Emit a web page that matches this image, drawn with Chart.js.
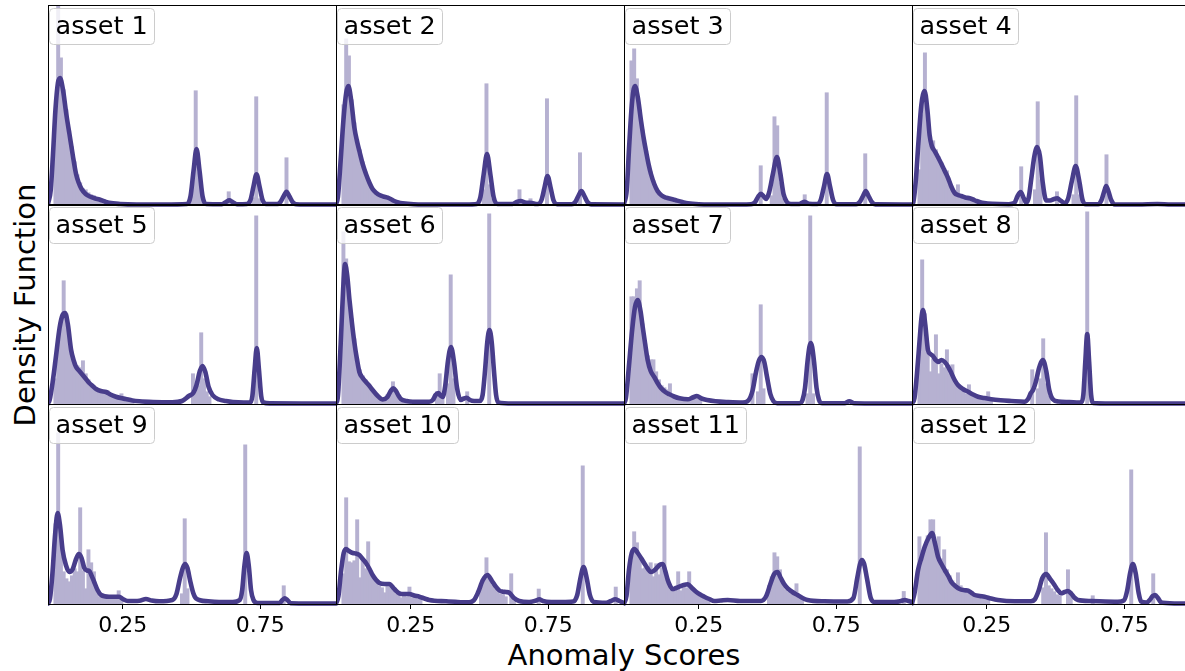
<!DOCTYPE html>
<html>
<head>
<meta charset="utf-8">
<script src="https://cdn.jsdelivr.net/npm/chart.js@4.4.0/dist/chart.umd.min.js"></script>
<style>
html,body{margin:0;padding:0;background:#fff;overflow:hidden;width:1185px;height:671px;}
body{position:relative;font-family:"DejaVu Sans",sans-serif;}
canvas{position:absolute;}
#xlabel{position:absolute;left:424px;width:400px;top:638px;text-align:center;font-size:29px;line-height:34px;color:#000;white-space:nowrap;}
#ylabel{position:absolute;left:-175px;width:400px;top:288px;text-align:center;font-size:29px;line-height:34px;color:#000;white-space:nowrap;transform:rotate(-90deg);transform-origin:50% 50%;}
</style>
</head>
<body>
<div id="xlabel">Anomaly Scores</div>
<div id="ylabel">Density Function</div>
<script>
// ---------------- data ----------------
const assetNames = ['asset 1','asset 2','asset 3','asset 4','asset 5','asset 6','asset 7','asset 8','asset 9','asset 10','asset 11','asset 12'];
const xTickValues = [0.25, 0.75];
const xTickLabels = ['0.25', '0.75'];

// kernel density curves: [score, density]
const kde1 = [[-0.022,0.1],[-0.012,1.5],[-0.004,5],[0.005,9.5],[0.014,12.2],[0.022,12.7],[0.032,11.6],[0.045,9],[0.056,7.1],[0.068,5],[0.08,3.1],[0.09,2.2],[0.1,1.6],[0.115,1.1],[0.13,0.85],[0.15,0.65],[0.165,0.55],[0.185,0.35],[0.2,0.22],[0.24,0.1],[0.3,0.05],[0.4,0.05],[0.483,0.1],[0.496,0.85],[0.507,3.4],[0.518,5.6],[0.529,3.4],[0.54,0.85],[0.553,0.1],[0.61,0.08],[0.625,0.3],[0.637,0.47],[0.649,0.3],[0.665,0.08],[0.701,0.1],[0.714,0.5],[0.725,1.85],[0.736,3.07],[0.747,1.85],[0.758,0.5],[0.771,0.1],[0.812,0.1],[0.823,0.3],[0.834,0.85],[0.845,1.33],[0.856,0.85],[0.867,0.3],[0.88,0.08],[0.95,0.05],[1.025,0.05]];
const kde2 = [[-0.022,0.1],[-0.015,0.8],[-0.005,4.5],[0.005,8.5],[0.015,11.2],[0.023,11.9],[0.033,10.5],[0.045,7.7],[0.055,6.3],[0.063,5.4],[0.075,4.1],[0.087,3.1],[0.1,2.2],[0.111,1.6],[0.125,1.2],[0.136,1.0],[0.15,0.85],[0.166,0.73],[0.18,0.55],[0.19,0.4],[0.205,0.25],[0.22,0.17],[0.26,0.08],[0.35,0.05],[0.45,0.05],[0.49,0.1],[0.503,0.8],[0.515,3.1],[0.527,5.1],[0.539,3.1],[0.551,0.8],[0.565,0.1],[0.62,0.1],[0.635,0.3],[0.65,0.4],[0.665,0.25],[0.69,0.2],[0.705,0.1],[0.712,0.1],[0.725,0.5],[0.736,1.75],[0.747,2.9],[0.758,1.75],[0.769,0.45],[0.782,0.08],[0.835,0.08],[0.848,0.3],[0.859,0.9],[0.87,1.4],[0.881,0.9],[0.892,0.3],[0.905,0.06],[1.025,0.05]];
const kde3 = [[-0.022,0.1],[-0.012,1.5],[-0.004,5.5],[0.005,9.5],[0.012,11.4],[0.018,11.9],[0.028,10.8],[0.04,8.4],[0.05,6.6],[0.058,5.4],[0.068,4],[0.076,3.1],[0.088,2.1],[0.1,1.4],[0.115,0.95],[0.131,0.73],[0.15,0.6],[0.167,0.47],[0.19,0.3],[0.21,0.17],[0.25,0.08],[0.35,0.05],[0.44,0.08],[0.455,0.3],[0.466,0.85],[0.476,1.13],[0.486,0.85],[0.494,0.6],[0.505,1.2],[0.52,3.2],[0.534,4.8],[0.546,3.2],[0.558,1.1],[0.57,0.3],[0.585,0.1],[0.615,0.1],[0.633,0.33],[0.65,0.12],[0.68,0.1],[0.693,0.5],[0.705,1.85],[0.716,3.1],[0.727,1.85],[0.738,0.5],[0.751,0.08],[0.822,0.08],[0.835,0.3],[0.846,0.85],[0.857,1.4],[0.868,0.85],[0.879,0.3],[0.892,0.06],[1.025,0.05]];
const kde4 = [[-0.022,0.05],[-0.017,0.3],[-0.008,2.5],[0.002,6.5],[0.012,10],[0.024,11.4],[0.034,9.5],[0.042,7],[0.05,5.9],[0.06,5.4],[0.072,4.8],[0.085,4.1],[0.097,3.4],[0.109,2.7],[0.12,1.9],[0.133,1.2],[0.145,1.0],[0.157,0.9],[0.172,0.75],[0.188,0.67],[0.2,0.55],[0.212,0.4],[0.226,0.28],[0.24,0.2],[0.27,0.12],[0.33,0.08],[0.35,0.2],[0.362,0.9],[0.373,1.3],[0.384,0.7],[0.393,0.25],[0.402,0.7],[0.412,2.7],[0.423,4.9],[0.433,5.8],[0.443,4.9],[0.453,2.3],[0.466,0.45],[0.48,0.45],[0.495,0.6],[0.506,0.67],[0.52,0.4],[0.533,0.2],[0.545,0.6],[0.56,2.5],[0.573,3.9],[0.586,2.4],[0.598,0.5],[0.61,0.08],[0.655,0.08],[0.667,0.5],[0.676,1.3],[0.684,1.9],[0.693,1.3],[0.702,0.5],[0.715,0.06],[0.8,0.05],[0.87,0.1],[0.92,0.05],[1.025,0.05]];
const kde5 = [[-0.022,0.05],[-0.016,0.4],[-0.005,2.2],[0.008,5],[0.02,7.6],[0.031,8.9],[0.04,9.1],[0.05,8],[0.062,5.4],[0.072,4.3],[0.08,3.7],[0.092,3.3],[0.104,2.9],[0.116,2.5],[0.128,2.1],[0.14,1.8],[0.153,1.5],[0.17,1.3],[0.189,1.2],[0.205,0.95],[0.225,0.73],[0.242,0.6],[0.26,0.5],[0.285,0.35],[0.31,0.27],[0.36,0.2],[0.43,0.17],[0.465,0.3],[0.49,0.8],[0.506,1.1],[0.518,1.9],[0.53,3.3],[0.54,3.8],[0.55,3.2],[0.562,1.7],[0.576,0.9],[0.6,0.45],[0.625,0.3],[0.65,0.2],[0.69,0.15],[0.713,0.15],[0.721,0.8],[0.729,3.4],[0.737,5.6],[0.745,3.4],[0.753,0.8],[0.761,0.15],[0.785,0.06],[0.9,0.05],[1.025,0.05]];
const kde6 = [[-0.022,0.05],[-0.015,0.8],[-0.005,6],[0.004,11.5],[0.011,14],[0.019,12.8],[0.027,10.4],[0.036,8.1],[0.045,6.1],[0.054,4.5],[0.063,3.2],[0.075,2.6],[0.087,2.2],[0.1,1.8],[0.111,1.4],[0.13,0.8],[0.148,0.45],[0.165,0.7],[0.177,1.3],[0.186,1.57],[0.196,1.3],[0.205,0.85],[0.214,0.5],[0.235,0.3],[0.257,0.23],[0.317,0.23],[0.33,0.4],[0.34,0.9],[0.35,1.1],[0.358,0.85],[0.366,0.7],[0.375,1.8],[0.385,4.3],[0.396,5.7],[0.407,4.2],[0.418,1.6],[0.432,0.4],[0.443,0.55],[0.453,0.63],[0.465,0.4],[0.48,0.3],[0.5,0.3],[0.511,0.9],[0.52,3.4],[0.528,6.2],[0.536,7.4],[0.544,6.2],[0.552,3.4],[0.56,0.9],[0.568,0.15],[0.62,0.05],[1.025,0.05]];
const kde7 = [[-0.022,0.05],[-0.015,0.6],[-0.005,3.5],[0.008,7.5],[0.018,9.7],[0.028,10.4],[0.038,9.3],[0.046,7.7],[0.055,6],[0.064,4.4],[0.075,3.3],[0.088,2.7],[0.1,2.1],[0.113,1.57],[0.128,1.2],[0.143,0.97],[0.16,0.75],[0.18,0.57],[0.21,0.47],[0.228,0.65],[0.243,0.8],[0.26,0.55],[0.28,0.4],[0.31,0.28],[0.355,0.2],[0.41,0.15],[0.43,0.35],[0.445,1.3],[0.458,3.2],[0.468,4.3],[0.478,4.7],[0.488,4.2],[0.498,2.7],[0.51,1.0],[0.522,0.25],[0.535,0.08],[0.615,0.08],[0.627,0.4],[0.636,1.6],[0.645,4.2],[0.652,5.7],[0.657,6.1],[0.662,5.7],[0.669,4.2],[0.678,1.6],[0.687,0.4],[0.699,0.08],[0.78,0.08],[0.797,0.27],[0.815,0.08],[1.025,0.05]];
const kde8 = [[-0.022,0.05],[-0.013,0.6],[-0.004,3],[0.006,6.5],[0.012,8.5],[0.018,9.4],[0.026,8],[0.036,5.4],[0.045,5.0],[0.054,4.8],[0.064,4.4],[0.073,4.2],[0.085,4.4],[0.097,4.2],[0.11,3.7],[0.121,3.1],[0.133,2.4],[0.145,1.9],[0.163,1.5],[0.182,1.23],[0.2,0.95],[0.218,0.73],[0.24,0.6],[0.266,0.47],[0.3,0.37],[0.339,0.3],[0.387,0.23],[0.4,0.5],[0.41,1.1],[0.418,1.4],[0.428,2.2],[0.44,3.6],[0.454,4.4],[0.466,3.3],[0.477,1.4],[0.49,0.47],[0.51,0.25],[0.55,0.2],[0.585,0.15],[0.594,0.2],[0.601,0.95],[0.608,4.2],[0.615,7.0],[0.622,4.2],[0.629,0.95],[0.636,0.1],[0.7,0.05],[1.025,0.05]];
const kde9 = [[-0.022,0.05],[-0.015,0.5],[-0.006,3],[0.004,7],[0.013,9.1],[0.022,7.8],[0.031,5.4],[0.043,3.9],[0.056,3.2],[0.068,3.5],[0.08,4.5],[0.09,5.0],[0.1,4.6],[0.11,3.6],[0.12,3.35],[0.128,3.3],[0.137,2.8],[0.146,2.2],[0.158,1.4],[0.171,0.9],[0.2,0.73],[0.237,0.73],[0.25,0.5],[0.268,0.3],[0.31,0.33],[0.334,0.5],[0.355,0.35],[0.383,0.27],[0.43,0.4],[0.445,1.0],[0.458,2.6],[0.468,3.6],[0.476,4.0],[0.485,3.6],[0.495,2.3],[0.506,1.1],[0.516,0.57],[0.56,0.27],[0.6,0.2],[0.65,0.2],[0.675,0.4],[0.684,1.4],[0.692,3.8],[0.7,5.1],[0.708,3.8],[0.716,1.4],[0.725,0.4],[0.74,0.1],[0.82,0.1],[0.83,0.4],[0.839,0.57],[0.848,0.4],[0.86,0.08],[1.025,0.05]];
const kde10 = [[-0.022,0.05],[-0.013,0.8],[-0.004,3.2],[0.006,5.1],[0.015,5.5],[0.025,5.3],[0.039,5.1],[0.05,5.05],[0.063,4.9],[0.075,4.5],[0.087,4.1],[0.1,3.5],[0.111,2.9],[0.124,2.4],[0.136,2.1],[0.155,2.0],[0.172,2.0],[0.19,1.5],[0.208,1.07],[0.225,1.0],[0.245,1.0],[0.262,0.85],[0.281,0.73],[0.3,0.55],[0.317,0.4],[0.378,0.27],[0.462,0.17],[0.48,0.4],[0.495,1.2],[0.512,2.4],[0.529,2.9],[0.545,2.3],[0.559,1.73],[0.572,1.35],[0.584,1.23],[0.596,1.2],[0.608,1.13],[0.625,0.6],[0.644,0.3],[0.68,0.2],[0.705,0.35],[0.717,0.47],[0.73,0.3],[0.76,0.2],[0.8,0.2],[0.84,0.25],[0.855,0.9],[0.866,2.5],[0.878,3.7],[0.89,2.5],[0.901,0.9],[0.915,0.2],[0.96,0.12],[0.978,0.3],[0.993,0.47],[1.008,0.3],[1.025,0.1]];
const kde11 = [[-0.022,0.05],[-0.013,0.8],[-0.004,3.4],[0.006,5.1],[0.016,5.5],[0.028,5.1],[0.04,4.6],[0.058,3.8],[0.076,3.2],[0.088,3.35],[0.1,3.7],[0.11,3.95],[0.119,4.0],[0.128,3.3],[0.137,2.4],[0.146,1.8],[0.155,1.47],[0.167,1.6],[0.179,1.73],[0.195,1.9],[0.21,1.97],[0.225,1.6],[0.24,1.23],[0.255,0.95],[0.27,0.73],[0.288,0.5],[0.306,0.3],[0.33,0.35],[0.355,0.4],[0.4,0.3],[0.476,0.3],[0.495,0.8],[0.51,2.0],[0.524,3.0],[0.536,3.2],[0.548,2.6],[0.56,2.0],[0.573,1.57],[0.59,1.2],[0.609,0.9],[0.627,0.6],[0.645,0.4],[0.706,0.27],[0.79,0.25],[0.812,0.6],[0.826,2.6],[0.836,4.0],[0.843,4.4],[0.851,4.0],[0.861,2.6],[0.875,0.6],[0.89,0.2],[0.96,0.2],[0.985,0.3],[0.999,0.4],[1.012,0.3],[1.025,0.2]];
const kde12 = [[-0.022,0.05],[-0.012,1.2],[0.0,3.4],[0.012,4.6],[0.024,5.7],[0.038,6.6],[0.051,7.1],[0.062,6.0],[0.073,4.7],[0.085,4.0],[0.097,3.4],[0.11,2.8],[0.121,2.2],[0.135,1.8],[0.151,1.5],[0.17,1.38],[0.182,1.33],[0.195,1.1],[0.206,0.9],[0.224,0.8],[0.242,0.73],[0.265,0.55],[0.29,0.4],[0.351,0.27],[0.41,0.28],[0.424,0.45],[0.438,1.3],[0.452,2.6],[0.466,3.0],[0.48,2.5],[0.496,1.9],[0.508,1.4],[0.52,1.07],[0.533,1.2],[0.545,1.3],[0.558,1.0],[0.568,0.65],[0.581,0.4],[0.63,0.3],[0.726,0.23],[0.748,0.35],[0.76,1.3],[0.771,3.1],[0.781,4.0],[0.791,3.1],[0.802,1.1],[0.811,0.25],[0.83,0.15],[0.845,0.5],[0.853,0.8],[0.862,0.9],[0.872,0.6],[0.882,0.2],[0.89,0.12],[0.95,0.05],[1.025,0.05]];

// histogram bins (bin centre, density), bin width 0.01
const hist1 = [[0.005,9],[0.015,22],[0.025,14.7],[0.035,11.5],[0.045,9.5],[0.055,7.4],[0.065,5.8],[0.075,4.3],[0.085,3.0],[0.095,2.2],[0.105,1.6],[0.115,1.5],[0.125,1.2],[0.135,1.0],[0.145,0.9],[0.155,0.7],[0.165,0.6],[0.175,0.45],[0.185,0.3],[0.195,0.2],[0.215,0.1],[0.495,0.6],[0.505,2.6],[0.515,11.4],[0.525,3.2],[0.535,0.9],[0.635,1.3],[0.725,0.7],[0.735,10.8],[0.745,0.6],[0.845,4.7]];
const hist2 = [[0.005,10],[0.015,16.6],[0.025,14.9],[0.035,10.5],[0.045,8.2],[0.055,6.5],[0.065,5.5],[0.075,4.3],[0.085,3.3],[0.095,2.5],[0.105,1.9],[0.115,1.5],[0.125,1.2],[0.135,1.0],[0.145,0.9],[0.155,0.85],[0.165,0.75],[0.175,0.6],[0.185,0.45],[0.195,0.3],[0.205,0.2],[0.225,0.1],[0.515,1.5],[0.525,12.1],[0.535,2.0],[0.545,0.6],[0.645,1.5],[0.685,0.6],[0.745,10.6],[0.865,5.2]];
const hist3 = [[0.005,14.4],[0.015,15.6],[0.025,12.6],[0.035,9.5],[0.045,7.5],[0.055,5.8],[0.065,4.3],[0.075,3.3],[0.085,2.4],[0.095,1.7],[0.105,1.2],[0.115,1.0],[0.125,0.8],[0.135,0.7],[0.145,0.6],[0.155,0.55],[0.165,0.45],[0.175,0.4],[0.185,0.3],[0.195,0.2],[0.205,0.15],[0.475,3.9],[0.515,0.9],[0.525,8.8],[0.535,7.9],[0.545,2.2],[0.555,0.6],[0.635,1.0],[0.715,11.2],[0.855,5.1]];
const hist4 = [[0.005,3.5],[0.015,9],[0.025,15.2],[0.035,8.5],[0.045,6.2],[0.055,6.4],[0.065,5.5],[0.075,4.8],[0.085,4.2],[0.095,3.6],[0.105,3.4],[0.115,2.3],[0.125,1.5],[0.135,1.1],[0.145,2.0],[0.155,0.9],[0.165,0.8],[0.175,0.7],[0.185,0.6],[0.195,0.55],[0.205,0.4],[0.215,0.3],[0.225,0.2],[0.375,3.8],[0.425,1.5],[0.435,10.3],[0.445,2.5],[0.505,1.3],[0.565,1.0],[0.575,10.9],[0.585,1.0],[0.685,5.0]];
const hist5 = [[0.005,2.5],[0.015,6],[0.025,8],[0.035,12.3],[0.045,9],[0.055,6.5],[0.065,5],[0.075,4.0],[0.085,3.8],[0.095,3.6],[0.105,4.3],[0.115,3],[0.125,2.4],[0.135,2.0],[0.145,1.8],[0.155,1.4],[0.165,1.3],[0.175,1.2],[0.185,1.1],[0.195,1.3],[0.205,0.9],[0.215,0.8],[0.225,0.7],[0.235,0.6],[0.245,1.0],[0.255,0.45],[0.265,0.4],[0.275,0.3],[0.285,0.25],[0.505,3.0],[0.515,1.2],[0.525,1.8],[0.535,7.1],[0.545,2.5],[0.555,1.2],[0.565,0.7],[0.735,18.8]];
const hist6 = [[0.005,17.2],[0.015,14.5],[0.025,11],[0.035,8.5],[0.045,6.5],[0.055,4.5],[0.065,3.4],[0.075,2.8],[0.085,2.4],[0.095,2.0],[0.105,1.6],[0.115,1.3],[0.125,0.9],[0.135,0.6],[0.145,0.5],[0.155,0.6],[0.165,0.9],[0.175,1.3],[0.185,2.2],[0.195,1.2],[0.205,0.8],[0.215,0.5],[0.225,0.35],[0.235,0.3],[0.245,0.25],[0.345,1.2],[0.355,3.0],[0.365,1.0],[0.385,2.0],[0.395,12.9],[0.405,2.5],[0.455,1.2],[0.535,19.0]];
const hist7 = [[0.005,10.7],[0.015,10.7],[0.025,11.5],[0.035,12.3],[0.045,8],[0.055,6],[0.065,4.8],[0.075,4.4],[0.085,4.4],[0.095,3.2],[0.105,2.4],[0.115,1.8],[0.125,1.6],[0.135,1.4],[0.145,2.0],[0.155,0.9],[0.165,0.8],[0.175,0.6],[0.185,0.5],[0.195,0.45],[0.205,0.45],[0.215,0.5],[0.225,0.6],[0.235,0.7],[0.245,0.6],[0.255,0.5],[0.445,3.0],[0.465,1.2],[0.475,9.9],[0.485,1.5],[0.645,1.0],[0.655,18.8],[0.665,1.0]];
const hist8 = [[0.005,6],[0.015,14.4],[0.025,9],[0.035,5.5],[0.045,3.2],[0.055,4.5],[0.065,6.9],[0.075,3.0],[0.085,4.0],[0.095,3.6],[0.105,5.4],[0.115,3.0],[0.125,3.9],[0.135,2.2],[0.145,1.8],[0.155,1.6],[0.165,1.3],[0.175,1.0],[0.185,1.9],[0.195,0.9],[0.205,0.8],[0.215,0.7],[0.225,0.6],[0.235,0.5],[0.245,0.5],[0.255,1.2],[0.265,0.4],[0.415,3.4],[0.435,1.5],[0.445,2.5],[0.455,6.5],[0.465,2.0],[0.475,0.8],[0.615,19.2]];
const hist9 = [[0.005,8],[0.015,17.1],[0.025,5.8],[0.035,3.2],[0.045,2.5],[0.055,2.2],[0.065,2.8],[0.075,3.5],[0.085,3.2],[0.095,9.6],[0.105,3.3],[0.115,1.5],[0.125,5.4],[0.135,4.1],[0.145,3.2],[0.155,1.3],[0.165,0.7],[0.175,0.7],[0.185,0.6],[0.195,0.8],[0.205,0.6],[0.215,0.8],[0.225,0.8],[0.235,1.3],[0.245,0.4],[0.465,1.0],[0.475,8.5],[0.485,1.5],[0.695,15.9],[0.835,1.8]];
const hist10 = [[0.005,3],[0.015,10.6],[0.025,4.2],[0.035,4.1],[0.045,4.3],[0.055,8.4],[0.065,2.6],[0.075,4.3],[0.085,3.5],[0.095,6.2],[0.105,3.0],[0.115,2.6],[0.125,2.4],[0.135,1.8],[0.145,1.6],[0.155,1.1],[0.165,1.9],[0.175,1.7],[0.185,1.3],[0.195,1.0],[0.205,0.9],[0.215,0.6],[0.225,0.8],[0.235,0.7],[0.245,1.67],[0.255,0.6],[0.265,0.6],[0.275,0.5],[0.285,0.4],[0.505,1.5],[0.515,2.3],[0.525,4.6],[0.535,2.7],[0.545,1.9],[0.555,1.5],[0.565,1.2],[0.575,1.0],[0.585,0.9],[0.595,0.7],[0.615,3.0],[0.625,0.3],[0.715,1.47],[0.875,13.8],[0.995,1.67]];
const hist11 = [[0.005,4.6],[0.015,7.2],[0.025,6.1],[0.035,4.5],[0.045,3.5],[0.055,3.6],[0.065,3.2],[0.075,4.1],[0.085,2.7],[0.095,4.0],[0.105,2.9],[0.115,3.6],[0.125,9.8],[0.135,2.5],[0.145,1.4],[0.155,1.2],[0.165,1.5],[0.175,3.2],[0.185,1.3],[0.195,1.9],[0.205,1.6],[0.215,3.2],[0.225,1.4],[0.235,1.1],[0.245,1.0],[0.255,0.7],[0.265,0.6],[0.275,0.5],[0.285,0.4],[0.505,1.8],[0.515,2.7],[0.525,5.1],[0.535,4.7],[0.545,3.4],[0.555,2.2],[0.565,1.4],[0.575,1.2],[0.585,1.0],[0.595,0.9],[0.605,2.0],[0.615,0.6],[0.625,0.4],[0.835,15.7],[0.995,1.23]];
const hist12 = [[0.005,6.7],[0.015,4.5],[0.025,5.5],[0.035,6.8],[0.045,8.4],[0.055,8.4],[0.065,6.2],[0.075,6.7],[0.085,4.5],[0.095,5.4],[0.105,3.4],[0.115,2.8],[0.125,2.3],[0.135,2.0],[0.145,3.1],[0.155,1.8],[0.165,1.4],[0.175,1.2],[0.185,1.3],[0.195,1.1],[0.205,0.9],[0.215,0.8],[0.225,0.7],[0.235,0.6],[0.245,0.7],[0.255,0.4],[0.455,1.6],[0.465,7.1],[0.475,1.8],[0.485,1.5],[0.495,1.2],[0.505,0.9],[0.515,0.8],[0.545,3.4],[0.555,0.8],[0.635,0.8],[0.775,13.4],[0.855,3.0]];

const kdes = [kde1,kde2,kde3,kde4,kde5,kde6,kde7,kde8,kde9,kde10,kde11,kde12];
const hists = [hist1,hist2,hist3,hist4,hist5,hist6,hist7,hist8,hist9,hist10,hist11,hist12];

// ---------------- layout / style ----------------
const X_MIN = -0.022, X_MAX = 1.025, Y_MAX = 20;
const colLeft = [48, 336, 624, 912];
const rowTop = [5, 204, 404];
const PANEL_W = 288, PANEL_H = 200, PAD = 4, AXIS_H = 45;
const LINE_COLOR = '#483D8B';
const BAR_COLOR = '#b6b1d1';
const FONT = '"DejaVu Sans", sans-serif';

const framePlugin = {
  id: 'frame',
  afterDraw(chart) {
    const {ctx, chartArea: a} = chart;
    ctx.save();
    ctx.strokeStyle = '#000';
    ctx.lineWidth = 1;
    ctx.strokeRect(Math.round(a.left) + 0.5, Math.round(a.top) + 0.5,
                   Math.round(a.right - a.left), Math.round(a.bottom - a.top));
    ctx.restore();
  }
};

const labelPlugin = {
  id: 'assetLabel',
  afterDraw(chart, args, opts) {
    const {ctx, chartArea: a} = chart;
    ctx.save();
    ctx.font = '25.5px ' + FONT;
    const w = ctx.measureText(opts.text).width;
    const bx = Math.round(a.left) + 1.5, by = Math.round(a.top) + 3.5;
    ctx.beginPath();
    ctx.roundRect(bx, by, Math.round(w + 13), 36, 4);
    ctx.fillStyle = 'rgba(255,255,255,0.8)';
    ctx.fill();
    ctx.strokeStyle = '#cccccc';
    ctx.lineWidth = 1;
    ctx.stroke();
    ctx.fillStyle = '#000';
    ctx.textBaseline = 'alphabetic';
    ctx.textAlign = 'left';
    ctx.fillText(opts.text, bx + 6, a.top + 28.5);
    ctx.restore();
  }
};

for (let i = 0; i < 12; i++) {
  const r = Math.floor(i / 4), c = i % 4;
  const bottom = r === 2;
  const cv = document.createElement('canvas');
  const W = PANEL_W + 2 * PAD;
  const H = PAD + PANEL_H + (bottom ? AXIS_H : PAD);
  cv.width = W; cv.height = H;
  cv.style.width = W + 'px'; cv.style.height = H + 'px';
  cv.style.left = (colLeft[c] - PAD) + 'px';
  cv.style.top = (rowTop[r] - PAD) + 'px';
  document.body.appendChild(cv);

  new Chart(cv.getContext('2d'), {
    type: 'bar',
    data: {
      datasets: [
        {
          type: 'line',
          data: kdes[i].map(p => ({x: p[0], y: p[1]})),
          borderColor: LINE_COLOR,
          borderWidth: 4.6,
          pointRadius: 0,
          fill: false,
          cubicInterpolationMode: 'monotone',
          borderJoinStyle: 'round',
          borderCapStyle: 'round',
          clip: {left: 0, right: 0, top: 0, bottom: 3},
          order: 0
        },
        {
          type: 'bar',
          data: hists[i].map(p => ({x: p[0], y: p[1]})),
          backgroundColor: BAR_COLOR,
          borderWidth: 0,
          barPercentage: 1.0,
          categoryPercentage: 1.0,
          inflateAmount: 0.6,
          clip: 0,
          order: 1
        }
      ]
    },
    options: {
      responsive: false,
      animation: false,
      devicePixelRatio: 1,
      events: [],
      layout: {padding: {left: PAD, right: PAD, top: PAD, bottom: bottom ? 0 : PAD}},
      plugins: {
        legend: {display: false},
        tooltip: {enabled: false},
        assetLabel: {text: assetNames[i]}
      },
      scales: {
        x: {
          type: 'linear',
          min: X_MIN, max: X_MAX,
          offset: false,
          display: bottom,
          border: {display: false},
          grid: {display: true, offset: false, drawOnChartArea: false, drawTicks: true, tickLength: 5, color: '#000', tickColor: '#000', tickWidth: 1, lineWidth: 1},
          afterBuildTicks: (scale) => { scale.ticks = xTickValues.map(v => ({value: v})); },
          afterFit: (scale) => { if (bottom) scale.height = AXIS_H; },
          ticks: {
            autoSkip: false, maxRotation: 0, padding: 4, color: '#000',
            font: {family: FONT, size: 22},
            callback: (v, idx) => xTickLabels[idx]
          }
        },
        y: {type: 'linear', min: 0, max: Y_MAX, display: false}
      }
    },
    plugins: [framePlugin, labelPlugin]
  });
}
</script>
</body>
</html>
